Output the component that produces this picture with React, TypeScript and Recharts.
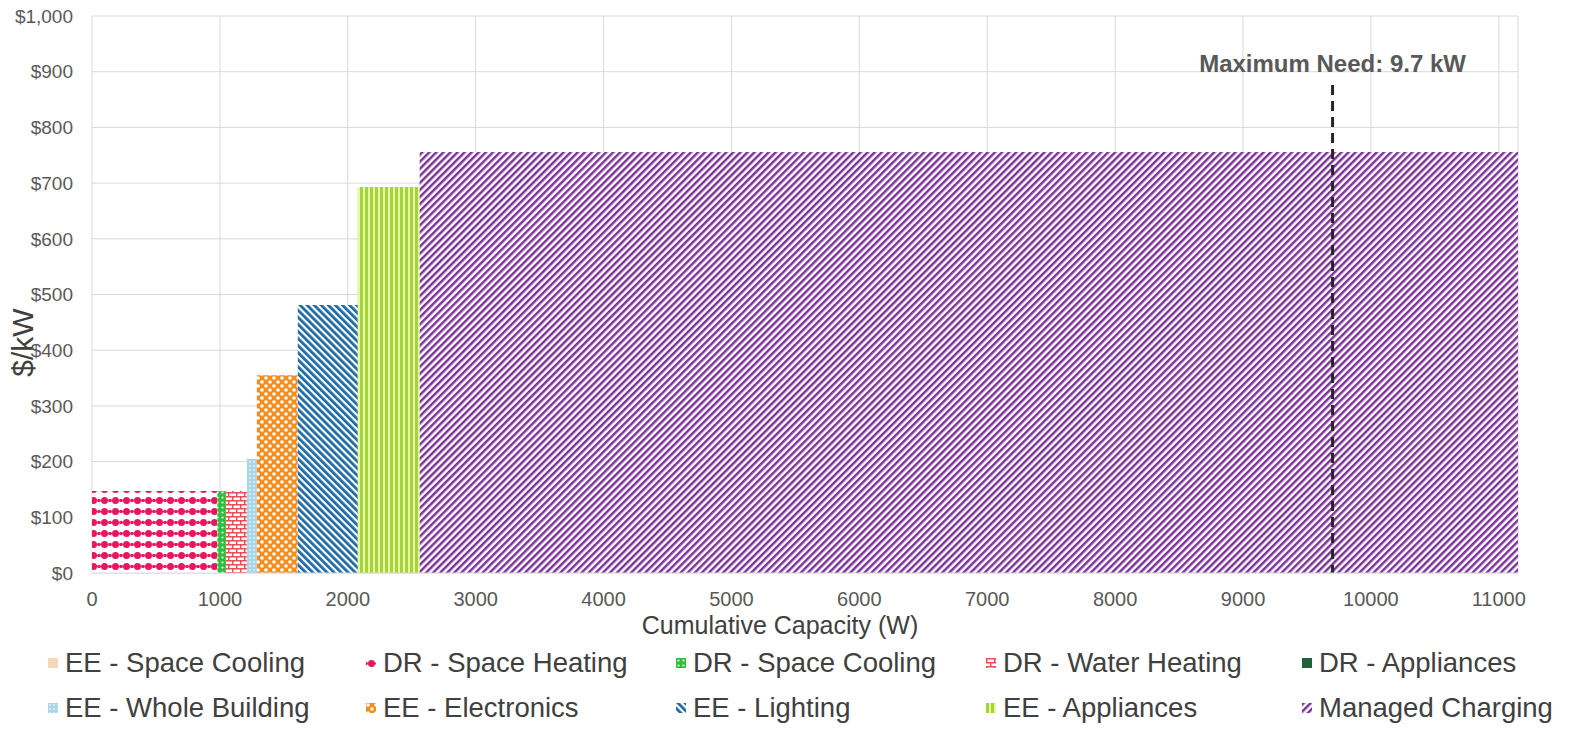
import React from 'react';
import { ComposedChart, Area, XAxis, YAxis, CartesianGrid, ReferenceLine, Label } from 'recharts';

// series in legend order; widths are the capacity each measure adds (W)
const seriesNames = [
  'EE - Space Cooling',
  'DR - Space Heating',
  'DR - Space Cooling',
  'DR - Water Heating',
  'DR - Appliances',
  'EE - Whole Building',
  'EE - Electronics',
  'EE - Lighting',
  'EE - Appliances',
  'Managed Charging',
];
const capacityW = [0, 980, 67, 164, 0, 78, 320, 469, 484, 8588];
const costPerKw = [null, 147, 147, 147, null, 205, 355, 481, 693, 756];

const xTicks = [0, 1000, 2000, 3000, 4000, 5000, 6000, 7000, 8000, 9000, 10000, 11000];
const yTicks = [0, 100, 200, 300, 400, 500, 600, 700, 800, 900, 1000];
const maxNeedKw = 9.7;

const fills = [
  '#f6d8b8',
  'url(#pSpaceHeat)',
  'url(#pSpaceCool)',
  'url(#pWaterHeat)',
  '#1c6339',
  'url(#pWholeBldg)',
  'url(#pElectronics)',
  'url(#pLighting)',
  'url(#pAppliances)',
  'url(#pManaged)',
];

const font = '"Liberation Sans", Arial, sans-serif';

// start of each step on the cumulative capacity axis
const starts = capacityW.map((_, i) => capacityW.slice(0, i).reduce((a, b) => a + b, 0));
const xMax = starts[starts.length - 1] + capacityW[capacityW.length - 1];

// one row per step edge; each series only has values at its own two edges
const rowMap = new Map<number, Record<string, number | null>>();
const rowAt = (x: number) => {
  if (!rowMap.has(x)) {
    const row: Record<string, number | null> = { x };
    seriesNames.forEach((_, i) => (row[`s${i}`] = null));
    rowMap.set(x, row);
  }
  return rowMap.get(x)!;
};
seriesNames.forEach((_, i) => {
  if (!capacityW[i]) return;
  rowAt(starts[i])[`s${i}`] = costPerKw[i];
  rowAt(starts[i] + capacityW[i])[`s${i}`] = costPerKw[i];
});
const rows = [...rowMap.values()].sort((a, b) => (a.x as number) - (b.x as number));

const Patterns = () => (
  <defs>
    <pattern id="pSpaceHeat" width="11" height="11" patternUnits="userSpaceOnUse">
      <rect width="11" height="11" fill="#fff" />
      <rect y="4.8" width="11" height="1.4" fill="#f07aa0" />
      <circle cx="5.5" cy="5.5" r="3.5" fill="#e8175d" />
      <circle cx="0" cy="5.5" r="1.8" fill="#e8175d" />
      <circle cx="11" cy="5.5" r="1.8" fill="#e8175d" />
    </pattern>
    <pattern id="pSpaceCool" width="5" height="5" patternUnits="userSpaceOnUse">
      <rect width="5" height="5" fill="#2fbf3f" />
      <circle cx="2.5" cy="2.5" r="1.1" fill="#e8ffe8" />
    </pattern>
    <pattern id="pWaterHeat" width="8" height="8" patternUnits="userSpaceOnUse">
      <rect width="8" height="8" fill="#fff" />
      <rect y="0" width="8" height="1.5" fill="#ee4d57" />
      <rect y="4" width="8" height="1.5" fill="#ee4d57" />
      <rect x="0" y="0" width="1.5" height="4" fill="#ee4d57" />
      <rect x="4" y="4" width="1.5" height="4" fill="#ee4d57" />
    </pattern>
    <pattern id="pWholeBldg" width="4" height="4" patternUnits="userSpaceOnUse">
      <rect width="4" height="4" fill="#a9d6e6" />
      <circle cx="2" cy="2" r="0.9" fill="#e6f4f8" />
    </pattern>
    <pattern id="pElectronics" width="8" height="8" patternUnits="userSpaceOnUse">
      <rect width="8" height="8" fill="#f28e1f" />
      <circle cx="2" cy="2" r="1.8" fill="#fff" />
      <circle cx="6" cy="6" r="1.8" fill="#fff" />
    </pattern>
    <pattern id="pLighting" width="5" height="5" patternUnits="userSpaceOnUse" patternTransform="rotate(-45)">
      <rect width="5" height="5" fill="#fff" />
      <rect width="2.8" height="5" fill="#1c6aa6" />
    </pattern>
    <pattern id="pAppliances" width="5" height="5" patternUnits="userSpaceOnUse">
      <rect width="5" height="5" fill="#e9f6a8" />
      <rect width="3" height="5" fill="#a4d43c" />
    </pattern>
    <pattern id="pManaged" width="5" height="5" patternUnits="userSpaceOnUse" patternTransform="rotate(45)">
      <rect width="5" height="5" fill="#fff" />
      <rect width="2.5" height="5" fill="#7d3399" />
    </pattern>
  </defs>
);

const XTitle = ({ viewBox }: any) => (
  <text
    x={viewBox.x + viewBox.width / 2 - 25}
    y={viewBox.y + 61}
    textAnchor="middle"
    fontSize={25}
    fill="#404040"
    fontFamily={font}
  >
    Cumulative Capacity (W)
  </text>
);

const YTitle = ({ viewBox }: any) => {
  const cx = viewBox.x + 22;
  const cy = viewBox.y + viewBox.height / 2 + 48;
  return (
    <text
      x={cx}
      y={cy}
      transform={`rotate(-90, ${cx}, ${cy})`}
      textAnchor="middle"
      dominantBaseline="central"
      fontSize={30}
      fill="#404040"
      fontFamily={font}
    >
      $/kW
    </text>
  );
};

// legend grid: two rows of five equal columns, row-major in series order
const legendCols = [48, 366, 676, 986, 1302];
const legendRows = [663, 708];

const LegendBlock = () => (
  <div style={{ position: 'absolute', left: 0, top: 0, width: 1571, height: 736, pointerEvents: 'none' }}>
    {seriesNames.map((name, i) => {
      const col = i % 5;
      const row = Math.floor(i / 5);
      return (
        <div
          key={name}
          style={{
            position: 'absolute',
            left: legendCols[col],
            top: legendRows[row] - 16,
            height: 32,
            display: 'flex',
            alignItems: 'center',
            whiteSpace: 'nowrap',
            fontFamily: font,
            fontSize: 27.5,
            color: '#404040',
          }}
        >
          <svg width={10} height={10} style={{ marginRight: 7 }}>
            <rect width={10} height={10} fill={fills[i]} />
          </svg>
          {name}
        </div>
      );
    })}
  </div>
);

export default function App() {
  return (
    <div style={{ position: 'absolute', left: 0, top: 0, width: 1571, height: 736, background: '#fff' }}>
      <ComposedChart
        width={1571}
        height={640}
        data={rows}
        margin={{ top: 16, right: 53, bottom: 17, left: 0 }}
        style={{ fontFamily: font }}
      >
        <Patterns />
        <CartesianGrid stroke="#d9d9d9" strokeWidth={1} />
        <XAxis
          type="number"
          dataKey="x"
          domain={[0, xMax]}
          ticks={xTicks}
          interval={0}
          height={50}
          axisLine={{ stroke: '#d9d9d9' }}
          tickLine={false}
          tickMargin={13}
          tick={{ fill: '#595959', fontSize: 20 }}
        >
          <Label content={XTitle} />
        </XAxis>
        <YAxis
          type="number"
          domain={[0, 1000]}
          ticks={yTicks}
          interval={0}
          width={92}
          axisLine={false}
          tickLine={false}
          tickMargin={13}
          tick={{ fill: '#595959', fontSize: 19 }}
          tickFormatter={(v: number) => `$${v.toLocaleString('en-US')}`}
        >
          <Label content={YTitle} />
        </YAxis>
        {seriesNames.map((name, i) =>
          capacityW[i] ? (
            <Area
              key={name}
              name={name}
              dataKey={`s${i}`}
              type="linear"
              stroke="none"
              fill={fills[i]}
              fillOpacity={1}
              connectNulls={false}
              dot={false}
              activeDot={false}
              isAnimationActive={false}
            />
          ) : null
        )}
        <ReferenceLine
          segment={[
            { x: maxNeedKw * 1000, y: 876 },
            { x: maxNeedKw * 1000, y: 0 },
          ]}
          stroke="#262626"
          strokeWidth={3}
          strokeDasharray="10 6"
        >
          <Label
            value={`Maximum Need: ${maxNeedKw} kW`}
            position="top"
            offset={13}
            fill="#595959"
            fontSize={24}
            fontWeight="bold"
          />
        </ReferenceLine>
      </ComposedChart>
      <LegendBlock />
    </div>
  );
}
